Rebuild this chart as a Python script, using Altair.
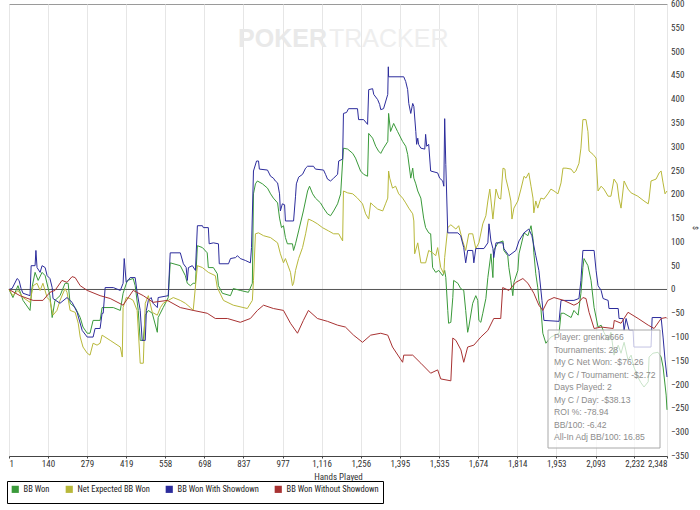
import altair as alt
import pandas as pd

# ---------------- data (hand number, $) ----------------
bb_won = [
    (1, 0), (15, -17), (33, 8), (51, -23), (76, -44), (83, 4), (94, 36), (105, 19), (119, 36), (130, 29),
    (147, -13), (155, -59), (165, -23), (183, -13), (201, 13), (212, 13), (219, -29), (237, -38), (255, -59),
    (265, -79), (280, -92), (290, -92), (301, -65), (326, -65), (333, -38), (373, -38), (398, -44), (408, -8),
    (423, 19), (444, 23), (451, 8), (462, -44), (469, -107), (480, -107), (487, -54), (498, -44), (512, -50),
    (530, -90), (533, -59), (551, -38), (569, -17), (576, 56), (612, 50), (630, 29), (637, 13), (648, 8),
    (658, 13), (666, 13), (673, 92), (691, 88), (708, 77), (712, 46), (730, 46), (744, 33), (748, 8),
    (762, -8), (791, -13), (801, 2), (826, -2), (855, -6), (869, 13), (873, 201), (880, 222), (887, 228),
    (905, 222), (923, 213), (934, 201), (944, 192), (959, 182), (966, 150), (973, 130), (980, 134), (987, 109),
    (994, 96), (1012, 96), (1016, 82), (1023, 96), (1034, 123), (1051, 165), (1066, 207), (1073, 217),
    (1084, 201), (1094, 192), (1112, 182), (1123, 171), (1137, 159), (1148, 155), (1159, 165), (1173, 180),
    (1184, 201), (1191, 270), (1194, 297), (1209, 295), (1227, 286), (1237, 276), (1255, 249), (1266, 242),
    (1280, 238), (1284, 328), (1298, 318), (1309, 301), (1319, 291), (1327, 286), (1337, 297), (1352, 311),
    (1355, 370), (1362, 332), (1373, 349), (1387, 332), (1405, 311), (1416, 301), (1423, 284), (1434, 234),
    (1441, 255), (1445, 234), (1452, 222), (1459, 207), (1470, 192), (1480, 150), (1487, 130), (1498, 119),
    (1505, 117), (1512, 46), (1523, 36), (1534, 40), (1548, 29), (1555, 40), (1559, 25), (1566, -44),
    (1569, -71), (1577, -69), (1584, -17), (1587, 19), (1602, 13), (1612, 2), (1623, -2), (1630, -44),
    (1637, -90), (1641, -79), (1655, -29), (1666, -13), (1673, -23), (1677, -65), (1684, -69), (1691, -50),
    (1702, -19), (1709, 25), (1720, 75), (1727, 25), (1730, 82), (1745, 98), (1763, 102), (1766, 82),
    (1780, 71), (1784, 46), (1791, 19), (1798, -13), (1802, 15), (1816, 40), (1820, 75), (1834, 109),
    (1838, 119), (1852, 113), (1863, 134), (1870, 107), (1873, 77), (1880, 33), (1887, 4), (1891, -23),
    (1898, -38), (1905, -92), (1916, -113), (1934, -100), (1963, -92), (1970, -50), (1980, -50), (2006, -59),
    (2016, -44), (2031, -54), (2041, -8), (2048, 46), (2052, 65), (2066, 50), (2077, 19), (2088, -38),
    (2102, -79), (2113, -75), (2123, -90), (2138, -107), (2148, -90), (2159, -138), (2174, -117),
    (2184, -134), (2195, -111), (2209, -148), (2220, -138), (2230, -163), (2244, -184), (2255, -196),
    (2266, -205), (2281, -194), (2284, -142), (2298, -134), (2316, -132), (2327, -142), (2334, -163),
    (2345, -222), (2348, -253),
]

net_expected = [
    (1, 0), (15, -13), (33, -2), (51, -17), (76, -27), (87, 8), (101, 13), (112, -2), (122, 13), (137, -17),
    (147, -23), (158, -54), (172, -44), (183, -23), (201, 2), (208, -6), (219, -44), (237, -48), (248, -71),
    (255, -100), (265, -121), (280, -134), (290, -138), (301, -113), (315, -117), (326, -113), (333, -96),
    (362, -107), (398, -121), (405, -142), (408, -38), (419, -17), (433, -19), (444, -23), (458, -44),
    (469, -155), (480, -155), (487, -29), (498, -13), (512, -48), (530, -54), (541, -38), (551, -29),
    (569, -23), (587, -17), (612, -23), (630, -29), (648, -38), (658, -44), (673, 50), (691, 46), (712, 36),
    (737, 29), (744, 4), (766, -23), (801, -33), (851, -40), (869, -23), (873, 19), (880, 117), (891, 119),
    (909, 113), (934, 109), (959, 98), (969, 75), (980, 56), (987, 65), (1005, 36), (1012, 8), (1016, 13),
    (1023, 40), (1034, 65), (1048, 88), (1059, 117), (1069, 148), (1084, 144), (1101, 138), (1119, 130),
    (1141, 123), (1159, 117), (1177, 117), (1191, 102), (1194, 207), (1209, 203), (1227, 201), (1244, 192),
    (1262, 180), (1273, 159), (1284, 148), (1291, 182), (1302, 176), (1316, 169), (1334, 165), (1344, 180),
    (1352, 192), (1355, 249), (1359, 234), (1369, 213), (1380, 217), (1391, 201), (1405, 192), (1416, 182),
    (1427, 171), (1441, 159), (1445, 144), (1448, 75), (1459, 98), (1470, 56), (1487, 56), (1498, 82),
    (1512, 77), (1523, 71), (1530, 88), (1541, 46), (1552, 33), (1555, 67), (1566, 130), (1577, 136),
    (1595, 127), (1605, 134), (1619, 102), (1630, 82), (1641, 117), (1655, 117), (1666, 86), (1677, 98),
    (1691, 138), (1702, 155), (1709, 186), (1716, 211), (1727, 148), (1730, 165), (1738, 211), (1748, 192),
    (1755, 190), (1763, 255), (1770, 253), (1773, 234), (1784, 207), (1791, 186), (1795, 148), (1802, 171),
    (1816, 186), (1827, 211), (1838, 238), (1845, 234), (1855, 245), (1863, 217), (1870, 192), (1873, 161),
    (1880, 186), (1887, 171), (1898, 192), (1909, 190), (1923, 201), (1934, 211), (1945, 207), (1959, 201),
    (1970, 224), (1977, 255), (1988, 255), (2006, 253), (2016, 245), (2023, 249), (2034, 265), (2041, 297),
    (2048, 357), (2059, 357), (2066, 332), (2070, 291), (2084, 284), (2095, 276), (2102, 207), (2113, 217),
    (2123, 211), (2138, 196), (2148, 196), (2159, 232), (2170, 222), (2177, 190), (2184, 171), (2195, 228),
    (2209, 211), (2220, 203), (2244, 196), (2266, 186), (2281, 180), (2284, 190), (2291, 228), (2309, 232),
    (2320, 245), (2327, 249), (2334, 224), (2341, 201), (2348, 207),
]

with_showdown = [
    (1, 0), (12, 2), (30, 23), (37, 19), (44, 2), (51, -8), (76, -13), (80, 50), (94, 50), (97, 82),
    (101, 46), (112, 36), (119, 50), (130, 46), (137, 29), (147, 23), (155, 4), (158, -19), (183, -29),
    (208, -17), (226, -27), (244, -48), (262, -86), (280, -100), (301, -100), (308, -82), (326, -82),
    (333, -50), (337, -50), (344, 4), (373, 4), (398, -2), (408, 13), (412, 65), (419, 15), (426, 19),
    (433, 25), (451, 25), (458, -6), (469, -44), (476, -107), (487, -107), (491, -44), (498, -23), (508, -17),
    (515, -29), (530, -38), (533, -17), (569, -13), (576, 77), (612, 77), (623, 54), (633, 46), (637, 19),
    (641, 46), (655, 50), (666, 40), (673, 134), (691, 134), (694, 130), (712, 130), (715, 96), (730, 98),
    (748, 96), (751, 54), (784, 54), (791, 65), (809, 67), (816, 71), (826, 65), (844, 61), (862, 56),
    (866, 88), (873, 249), (884, 270), (891, 270), (894, 253), (923, 251), (934, 238), (944, 234), (951, 228),
    (959, 224), (966, 201), (969, 165), (976, 180), (984, 178), (987, 144), (1016, 144), (1023, 196),
    (1026, 222), (1034, 236), (1048, 242), (1059, 255), (1066, 259), (1087, 259), (1094, 253), (1123, 251),
    (1130, 242), (1137, 232), (1148, 228), (1159, 234), (1173, 242), (1177, 270), (1191, 274), (1194, 370),
    (1205, 372), (1212, 380), (1244, 380), (1248, 357), (1266, 357), (1280, 347), (1284, 420), (1298, 422),
    (1302, 410), (1316, 399), (1323, 389), (1327, 378), (1337, 380), (1352, 410), (1354, 468), (1355, 447),
    (1409, 447), (1416, 437), (1423, 420), (1427, 391), (1434, 370), (1441, 391), (1445, 385), (1452, 332),
    (1455, 305), (1459, 318), (1462, 305), (1470, 297), (1484, 295), (1487, 326), (1491, 301), (1498, 305),
    (1505, 249), (1530, 245), (1537, 234), (1548, 228), (1552, 217), (1555, 359), (1559, 263), (1566, 119),
    (1602, 119), (1612, 113), (1623, 88), (1630, 56), (1637, 82), (1655, 82), (1659, 56), (1666, 86),
    (1695, 86), (1709, 98), (1713, 138), (1720, 102), (1727, 86), (1730, 67), (1738, 98), (1763, 98),
    (1766, 86), (1784, 71), (1809, 82), (1820, 102), (1838, 119), (1855, 127), (1866, 113), (1880, 71),
    (1891, 40), (1902, -23), (1909, -65), (1963, -67), (1970, -23), (2016, -23), (2034, -19), (2041, 19),
    (2048, 82), (2088, 82), (2095, 40), (2102, 8), (2113, -2), (2120, -19), (2138, -23), (2141, -40),
    (2174, -40), (2177, -61), (2191, -61), (2195, -86), (2202, -61), (2213, -86), (2227, -86), (2230, -121),
    (2291, -121), (2295, -59), (2327, -59), (2334, -100), (2341, -148), (2348, -184),
]

without_showdown = [
    (1, 0), (40, -13), (87, -23), (122, -23), (147, -6), (165, -2), (190, 19), (208, 15), (226, 27), (237, 25),
    (255, 8), (280, -2), (326, -13), (362, -19), (408, -33), (444, -2), (480, -13), (515, -27), (566, -23),
    (612, -38), (658, -44), (708, -50), (737, -61), (780, -61), (826, -69), (862, -61), (887, -44), (909, -33),
    (944, -40), (980, -44), (1005, -71), (1030, -92), (1051, -65), (1069, -44), (1101, -61), (1137, -67),
    (1173, -75), (1201, -79), (1230, -96), (1262, -111), (1291, -96), (1327, -92), (1352, -96), (1369, -121),
    (1405, -153), (1409, -138), (1441, -138), (1470, -155), (1505, -176), (1530, -169), (1541, -188),
    (1577, -192), (1584, -102), (1595, -107), (1613, -127), (1623, -153), (1637, -121), (1659, -117),
    (1684, -100), (1709, -86), (1730, -61), (1755, -61), (1762, 4), (1784, -2), (1809, 15), (1834, 23),
    (1852, 13), (1873, -8), (1891, -33), (1905, -44), (1923, -23), (1945, -17), (1980, -23), (2016, -33),
    (2030, -29), (2048, -17), (2059, -19), (2070, -48), (2088, -82), (2113, -79), (2156, -82), (2160, -65),
    (2184, -71), (2209, -48), (2245, -61), (2281, -75), (2302, -82), (2327, -61), (2345, -59), (2348, -61),
]

series_names = ["BB Won", "Net Expected BB Won", "BB Won With Showdown", "BB Won Without Showdown"]
series_colors = ["#3a9a3a", "#b8b83a", "#2c2c9c", "#a83232"]

x_ticks = [1, 140, 279, 419, 558, 698, 837, 977, 1116, 1256, 1395, 1535, 1674, 1814, 1953, 2093, 2232, 2348]
y_ticks = [-350, -300, -250, -200, -150, -100, -50, 0, 50, 100, 150, 200, 250, 300, 350, 400, 450, 500, 550, 600]
y_title = "$"

stats_lines = [
    "Player: grenka666",
    "Tournaments: 28",
    "My C Net Won: -$76.26",
    "My C / Tournament: -$2.72",
    "Days Played: 2",
    "My C / Day: -$38.13",
    "ROI %: -78.94",
    "BB/100: -6.42",
    "All-In Adj BB/100: 16.85",
]

# ---------------- build tables ----------------
rows = []
for name, pts in zip(series_names, [bb_won, net_expected, with_showdown, without_showdown]):
    for i, (h, v) in enumerate(pts):
        rows.append({"series": name, "hand": h, "value": v, "idx": i})
df = pd.DataFrame(rows)
ytick_df = pd.DataFrame({"tick": y_ticks})

NARROW = "Liberation Sans Narrow, Arial Narrow, Roboto Condensed, sans-serif"
SANS = "Liberation Sans, Arial, sans-serif"

one = pd.DataFrame({"a": [0]})

Y_SCALE = alt.Scale(domain=[-350, 600], nice=False, zero=False)

watermark1 = alt.Chart(one).mark_text(
    text="POKER", font=SANS, fontSize=25, fontWeight="bold", color="#e9e9e9", align="right", baseline="middle"
).encode(x=alt.value(318), y=alt.value(35))
watermark2 = alt.Chart(one).mark_text(
    text="TRACKER", font=SANS, fontSize=25, fontWeight="normal", color="#eeeeee", align="left", baseline="middle"
).encode(x=alt.value(320), y=alt.value(35))

zero_rule = alt.Chart(one).mark_rule(color="#555555", strokeWidth=1).encode(y=alt.datum(0))

lines = alt.Chart(df).mark_line(strokeWidth=1, interpolate="linear").encode(
    x=alt.X(
        "hand:Q",
        scale=alt.Scale(domain=[1, 2348], nice=False, zero=False),
        axis=alt.Axis(
            values=x_ticks, format=",d", title="Hands Played", labelFont=NARROW, labelFontSize=9,
            titleFont=NARROW, titleFontSize=9, titleFontWeight="normal", tickSize=2, labelPadding=1,
            titlePadding=4, labelOverlap=False, labelColor="#333333", titleColor="#333333",
        ),
    ),
    y=alt.Y(
        "value:Q",
        scale=Y_SCALE,
        axis=alt.Axis(orient="right", values=y_ticks, title=None, labels=False, tickSize=4),
    ),
    color=alt.Color(
        "series:N",
        scale=alt.Scale(domain=series_names, range=series_colors),
        legend=alt.Legend(
            orient="none", legendX=-2, legendY=477, direction="horizontal", title=None,
            strokeColor="#000000", fillColor="#ffffff", padding=4, symbolType="square",
            symbolSize=10, symbolStrokeWidth=4, labelFont=NARROW, labelFontSize=8.5, labelColor="#222222",
            columnPadding=9, symbolOffset=0, labelOffset=4, labelLimit=300,
        ),
    ),
    order="idx:Q",
)

y_labels = alt.Chart(ytick_df).mark_text(
    font=NARROW, fontSize=9, color="#333333", align="left", baseline="middle"
).encode(
    y=alt.Y("tick:Q", scale=Y_SCALE, axis=None),
    x=alt.value(662),
    text=alt.Text("tick:Q", format="d"),
)

y_title_mark = alt.Chart(one).mark_text(
    font=NARROW, fontSize=8, color="#333333", angle=90, align="center", baseline="middle"
).encode(x=alt.value(686), y=alt.value(224), text=alt.value(y_title))

box = alt.Chart(one).mark_rect(fill="#ffffff", fillOpacity=0.72, stroke="#a8a8a8", strokeWidth=1).encode(
    x=alt.value(539), x2=alt.value(651), y=alt.value(326), y2=alt.value(444)
)
box_text = alt.Chart(one).mark_text(
    font=SANS, fontSize=8.6, color="#8c8c8c", align="left", baseline="top", lineHeight=12.5
).encode(x=alt.value(545), y=alt.value(329), text=alt.value(stats_lines))

chart = alt.layer(
    watermark1, watermark2, zero_rule, lines, box, box_text, y_labels, y_title_mark
).properties(
    width=658,
    height=452,
    padding={"left": 9, "top": 4, "right": 33, "bottom": 54},
    autosize=alt.AutoSizeParams(type="none"),
    background="#ffffff",
).configure_view(stroke="#9a9a9a", strokeWidth=1).configure_axis(
    gridColor="#e6e6e6", gridWidth=1, domainColor="#444444", tickColor="#444444", labelOverlap=False
)

chart.save("out.html", embed_options={"renderer": "svg", "actions": False})
